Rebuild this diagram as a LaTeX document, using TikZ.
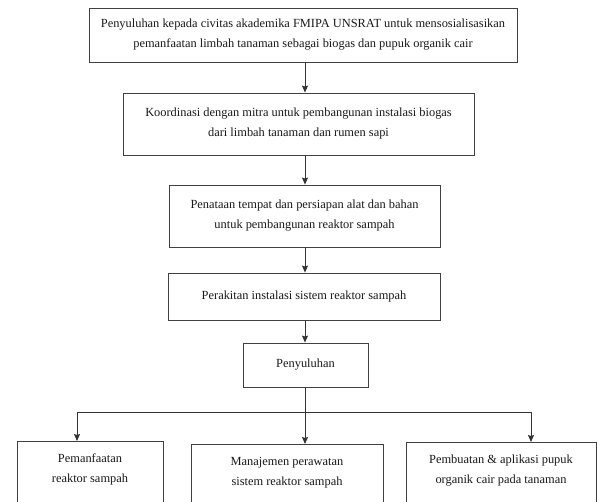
\documentclass[tikz,border=0pt]{standalone}
\usepackage{fontspec}
\setmainfont{Liberation Serif}
\usetikzlibrary{arrows.meta}
\begin{document}
\begin{tikzpicture}[x=1pt,y=1pt,
  box/.style={draw=black!75, line width=0.85pt, fill=white, inner sep=0pt, align=center,
    font=\fontsize{12.4}{20}\selectfont, text=black!90},
  txt/.style={inner sep=0pt, align=center, font=\fontsize{12.4}{20}\selectfont, text=black!90},
  arr/.style={draw=black!80, line width=0.9pt, -{Stealth[length=7pt,width=6pt,inset=1pt]}},
  ln/.style={draw=black!80, line width=0.9pt}]
\useasboundingbox (0,0) rectangle (597,-501);
\clip (0,0) rectangle (597,-501);
\fill[white] (0,0) rectangle (597,-501);
\node[box, minimum width=428, minimum height=54] (b1) at (303,-35)
  {Penyuluhan kepada civitas akademika FMIPA UNSRAT untuk mensosialisasikan\\pemanfaatan limbah tanaman sebagai biogas dan pupuk organik cair};
\node[box, minimum width=351, minimum height=62] (b2) at (298.5,-124)
  {Koordinasi dengan mitra untuk pembangunan instalasi biogas\\dari limbah tanaman dan rumen sapi};
\node[box, minimum width=271, minimum height=62] (b3) at (304.5,-216)
  {Penataan tempat dan persiapan alat dan bahan\\untuk pembangunan reaktor sampah};
\node[box, minimum width=272, minimum height=47] (b4) at (304,-296.5)
  {Perakitan instalasi sistem reaktor sampah};
\node[box, minimum width=125, minimum height=44] (b5) at (305.5,-365)
  {Penyuluhan};
\node[box, minimum width=146, minimum height=100, anchor=north] (bl) at (90,-441) {};
\node[box, minimum width=192, minimum height=100, anchor=north] (bm) at (287,-444) {};
\node[box, minimum width=190, minimum height=100, anchor=north] (br) at (501,-442) {};
\node[txt] (tl) at (90,-469) {Pemanfaatan\\reaktor sampah};
\node[txt] (tm) at (287,-473) {Manajemen perawatan\\sistem reaktor sampah};
\node[txt] (tr) at (501,-471) {Pembuatan \& aplikasi pupuk\\organik cair pada tanaman};
\coordinate (ax) at (305,0);
\coordinate (jm) at (305,-412);
\coordinate (jl) at (77,-412);
\coordinate (jr) at (531,-412);
\draw[arr] (b1.south -| ax) -- (b2.north -| ax);
\draw[arr] (b2.south -| ax) -- (b3.north -| ax);
\draw[arr] (b3.south -| ax) -- (b4.north -| ax);
\draw[arr] (b4.south -| ax) -- (b5.north -| ax);
\draw[ln] (b5.south -| ax) -- (jm);
\draw[ln] (jl) -- (jr);
\draw[arr] (jl) -- (bl.north -| jl);
\draw[arr] (jm) -- (bm.north -| jm);
\draw[arr] (jr) -- (br.north -| jr);
\end{tikzpicture}
\end{document}
